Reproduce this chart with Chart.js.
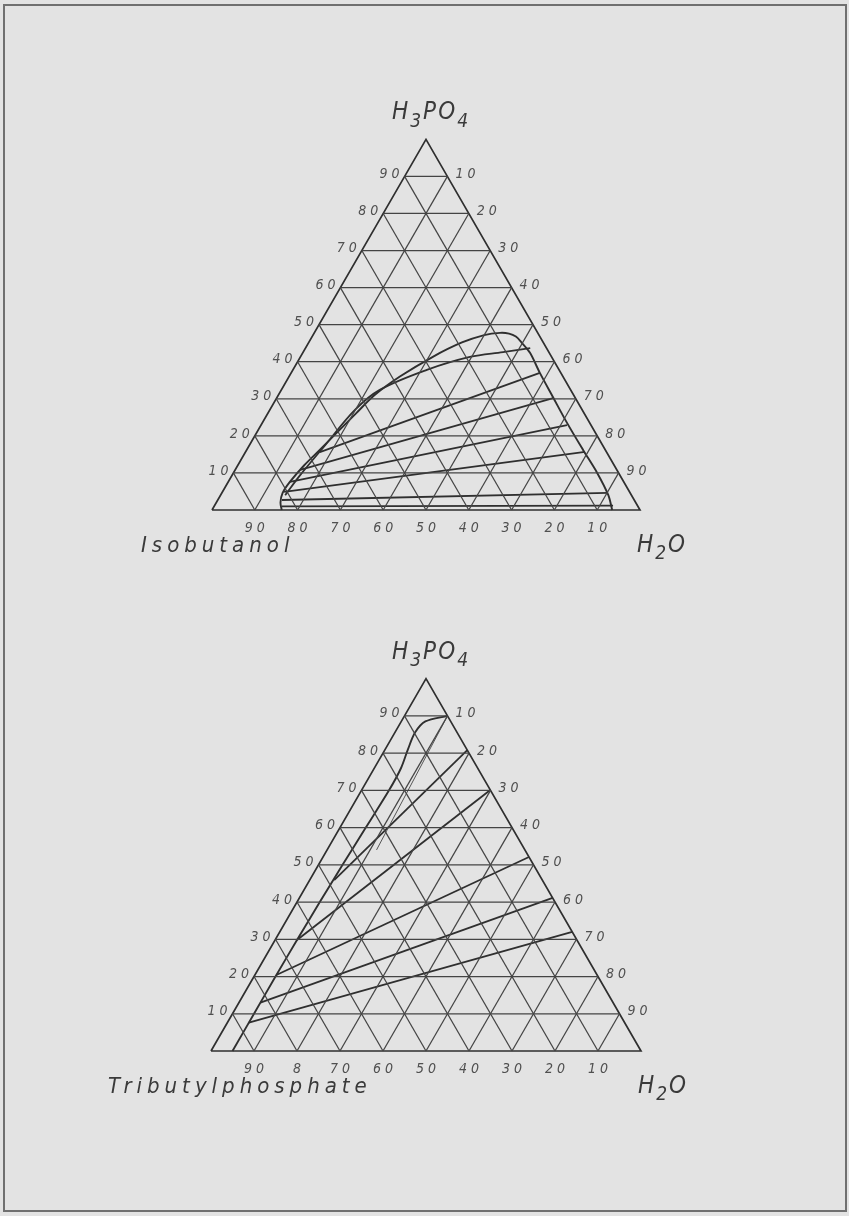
<!DOCTYPE html>
<html>
<head>
<meta charset="utf-8">
<script src="https://cdn.jsdelivr.net/npm/chart.js@4.4.0/dist/chart.umd.min.js"></script>
<style>
    html, body { margin: 0; padding: 0; background: #e3e3e3; }
    #page { position: relative; width: 849px; height: 1216px; background: #e3e3e3; overflow: hidden; }
    #frame { position: absolute; left: 3px; top: 4px; width: 840px; height: 1204px; border: 2px solid #707070; }
    canvas { position: absolute; left: 0; }
</style>
</head>
<body>
<div id="page">
    <div id="frame"></div>
    <canvas id="iso-chart" width="849" height="600" style="top:0px"></canvas>
    <canvas id="tbp-chart" width="849" height="616" style="top:600px"></canvas>
</div>
<script>
// compositions in %: a = H3PO4 (top), w = H2O (right), rest = solvent (left)
var gridSteps = [10, 20, 30, 40, 50, 60, 70, 80, 90];
var leftTickLabels = ["10", "20", "30", "40", "50", "60", "70", "80", "90"];
var rightTickLabels = ["90", "80", "70", "60", "50", "40", "30", "20", "10"];
var isoBaseLabels = ["90", "80", "70", "60", "50", "40", "30", "20", "10"];
var tbpBaseLabels = ["90", "8", "70", "60", "50", "40", "30", "20", "10"];

// Isobutanol - H3PO4 - H2O
var isoBinodalA = [0, 2, 4.6, 7.5, 12, 16, 21, 26, 31, 36, 41.4, 45.2, 47.2, 47.8, 47.6, 46.8, 45.3, 42.4, 37, 30.5, 23.5, 16.2, 10, 4, 0];
var isoBinodalW = [16.3, 15, 14.2, 14.4, 15.5, 17, 18.8, 20.6, 22.5, 25.9, 31, 35.8, 40, 43.4, 45.6, 47.6, 49.6, 53.1, 58.1, 64.4, 71.2, 78.6, 85, 90.6, 93.5];
var isoInnerA = [4, 9.4, 17.5, 27, 32.4, 37.8, 41.3, 42.6, 43.7];
var isoInnerW = [15.1, 15.9, 17.7, 19.9, 23, 31.3, 39.6, 46.7, 52.5];
var isoTieLeftA = [15.6, 10.8, 7.6, 4.9, 2.7, 1.0];
var isoTieLeftW = [17.4, 15.2, 14.4, 14.4, 15.0, 15.8];
var isoTieRightA = [37.0, 30.2, 22.9, 15.7, 4.6, 1.2];
var isoTieRightW = [58.1, 64.6, 71.5, 79.3, 90.2, 93.1];

// Tributylphosphate - H3PO4 - H2O
var tbpBinodalA = [0, 10, 20, 30, 40, 50, 60, 70, 76, 81, 85.5, 88.5, 90];
var tbpBinodalW = [5.0, 5.0, 5.0, 5.1, 5.3, 5.6, 6.0, 6.4, 6.2, 5.3, 4.7, 5.6, 10.0];
var tbpTieLeftA = [45.9, 29.8, 20.4, 13.0, 7.6];
var tbpTieLeftW = [5.7, 5.1, 5.0, 5.0, 5.0];
var tbpTieRightA = [80.8, 70.1, 52.1, 41.1, 32.0];
var tbpTieRightW = [19.2, 29.9, 47.9, 58.9, 68.0];
var tbpThinA = [90, 54];
var tbpThinW = [10, 11.5];

var SQ = Math.sqrt(3) / 2;
var INK = "#2f2f2f";
var GRID = "#444444";

function pt(a, w) {
    return { x: w + a / 2, y: a * SQ };
}

function lineSet(points, width, color, tension) {
    return {
        data: points,
        showLine: true,
        borderColor: color || INK,
        borderWidth: width,
        pointRadius: 0,
        fill: false,
        tension: tension || 0,
        clip: false
    };
}

function triangleDatasets() {
    var sets = [];
    gridSteps.forEach(function (s) {
        sets.push(lineSet([pt(s, 0), pt(s, 100 - s)], 1.25, GRID));
        sets.push(lineSet([pt(0, s), pt(100 - s, s)], 1.25, GRID));
        sets.push(lineSet([pt(0, 100 - s), pt(100 - s, 0)], 1.25, GRID));
    });
    sets.push(lineSet([pt(0, 0), pt(0, 100), pt(100, 0), pt(0, 0)], 1.7));
    return sets;
}

function curve(aList, wList) {
    return aList.map(function (a, i) { return pt(a, wList[i]); });
}

function tieLines(la, lw, ra, rw, width) {
    return la.map(function (a, i) {
        return lineSet([pt(a, lw[i]), pt(ra[i], rw[i])], width);
    });
}

// chemical formula with subscripts: parts = [[text, isSub], ...]
function drawFormula(ctx, parts, x, y, size, align) {
    var big = "italic " + size + "px 'Liberation Sans Narrow', 'DejaVu Sans Condensed', sans-serif";
    var small = "italic " + Math.round(size * 0.8) + "px 'Liberation Sans Narrow', 'DejaVu Sans Condensed', sans-serif";
    var total = 0;
    parts.forEach(function (p) {
        ctx.font = p[1] ? small : big;
        total += ctx.measureText(p[0]).width;
    });
    var cx = align === "center" ? x - total / 2 : x;
    ctx.textAlign = "left";
    ctx.textBaseline = "alphabetic";
    parts.forEach(function (p) {
        ctx.font = p[1] ? small : big;
        ctx.fillText(p[0], cx, p[1] ? y + size * 0.3 : y);
        cx += ctx.measureText(p[0]).width;
    });
}

var labelPlugin = {
    id: "ternaryLabels",
    afterDraw: function (chart) {
        var o = chart.options.plugins.ternaryLabels;
        var ctx = chart.ctx, xs = chart.scales.x, ys = chart.scales.y;
        function P(a, w) {
            var p = pt(a, w);
            return [xs.getPixelForValue(p.x), ys.getPixelForValue(p.y)];
        }
        ctx.save();
        ctx.fillStyle = "#505050";
        ctx.font = "italic 14px 'Liberation Sans Narrow', 'DejaVu Sans Condensed', sans-serif";
        ctx.letterSpacing = "4px";
        ctx.textBaseline = "middle";
        gridSteps.forEach(function (a, i) {
            var p = P(a, 0);
            ctx.textAlign = "right";
            ctx.fillText(leftTickLabels[i], p[0] - 1, p[1] - 2);
            var q = P(a, 100 - a);
            ctx.textAlign = "left";
            ctx.fillText(rightTickLabels[i], q[0] + 8, q[1] - 2);
            var r = P(0, a);
            ctx.textAlign = "center";
            ctx.fillText(o.baseLabels[i], r[0] + 2, r[1] + 18);
        });

        ctx.fillStyle = "#3a3a3a";
        ctx.letterSpacing = "2px";
        var apex = P(100, 0), left = P(0, 0), right = P(0, 100);
        drawFormula(ctx, [["H", 0], ["3", 1], ["PO", 0], ["4", 1]], apex[0] + 5, apex[1] - 20, 24, "center");
        drawFormula(ctx, [["H", 0], ["2", 1], ["O", 0]], right[0] - 3, right[1] + 42, 24, "left");
        ctx.letterSpacing = "5px";
        ctx.font = "italic 22px 'Liberation Sans Narrow', 'DejaVu Sans Condensed', sans-serif";
        ctx.textAlign = "left";
        ctx.textBaseline = "alphabetic";
        ctx.fillText(o.solvent, left[0] + o.solventDx, left[1] + 42);
        ctx.restore();
    }
};

function makeChart(id, geom, datasets, labels) {
    var canvas = document.getElementById(id);
    var s = geom.baseWidth / 100;
    var w = canvas.width, h = canvas.height;
    return new Chart(canvas.getContext("2d"), {
        type: "scatter",
        data: { datasets: datasets },
        options: {
            responsive: false,
            animation: false,
            devicePixelRatio: 1,
            layout: { padding: 0 },
            scales: {
                x: { type: "linear", display: false, min: -geom.baseLeft / s, max: (w - geom.baseLeft) / s },
                y: { type: "linear", display: false, min: -(h - geom.baseY) / s, max: geom.baseY / s }
            },
            plugins: {
                legend: { display: false },
                tooltip: { enabled: false },
                ternaryLabels: labels
            }
        },
        plugins: [labelPlugin]
    });
}

document.addEventListener("DOMContentLoaded", function () {
    var isoSets = triangleDatasets();
    isoSets.push(lineSet(curve(isoBinodalA, isoBinodalW), 1.9, INK, 0.3));
    isoSets.push(lineSet(curve(isoInnerA, isoInnerW), 1.8, INK, 0.35));
    isoSets = isoSets.concat(tieLines(isoTieLeftA, isoTieLeftW, isoTieRightA, isoTieRightW, 1.8));
    makeChart("iso-chart", { baseLeft: 212, baseWidth: 428, baseY: 510 }, isoSets,
        { baseLabels: isoBaseLabels, solvent: "Isobutanol", solventDx: -71 });

    var tbpSets = triangleDatasets();
    tbpSets.push(lineSet(curve(tbpBinodalA, tbpBinodalW), 1.9, INK, 0.3));
    tbpSets.push(lineSet(curve(tbpThinA, tbpThinW), 1.0, "#555555"));
    tbpSets = tbpSets.concat(tieLines(tbpTieLeftA, tbpTieLeftW, tbpTieRightA, tbpTieRightW, 1.8));
    makeChart("tbp-chart", { baseLeft: 211, baseWidth: 430, baseY: 451 }, tbpSets,
        { baseLabels: tbpBaseLabels, solvent: "Tributylphosphate", solventDx: -103 });
});
</script>
</body>
</html>
